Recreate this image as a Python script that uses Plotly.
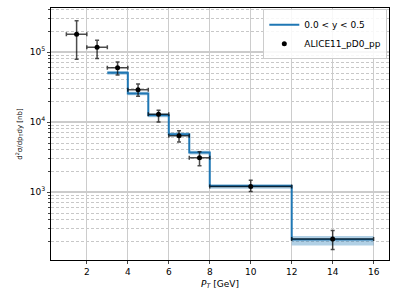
import plotly.graph_objects as go

# Measured data (ALICE11_pD0_pp)
bin_lo = [1, 2, 3, 4, 5, 6, 7, 8, 12]
bin_hi = [2, 3, 4, 5, 6, 7, 8, 12, 16]
y_data = [1.8e5, 1.17e5, 6.0e4, 2.89e4, 1.29e4, 6.4e3, 3.1e3, 1.2e3, 213]
y_up = [2.8e5, 1.48e5, 7.2e4, 3.49e4, 1.48e4, 7.5e3, 3.77e3, 1.48e3, 282]
y_down = [7.9e4, 8.1e4, 4.7e4, 2.35e4, 1.0e4, 5.2e3, 2.38e3, 1.02e3, 151]

# Theory histogram (0.0 < y < 0.5)
th_edges = [3, 4, 5, 6, 7, 8, 12, 16]
th_vals = [5.06e4, 2.57e4, 1.25e4, 6.7e3, 3.69e3, 1.22e3, 211]
th_low = [4.75e4, 2.42e4, 1.17e4, 6.3e3, 3.45e3, 1.12e3, 172]
th_high = [5.35e4, 2.72e4, 1.33e4, 7.1e3, 3.9e3, 1.30e3, 236]

x_ticks = [2, 4, 6, 8, 10, 12, 14, 16]
y_ticks = [1e3, 1e4, 1e5]
y_ticktext = ["10<sup>3</sup>", "10<sup>4</sup>", "10<sup>5</sup>"]
y_minor = [k * 10 ** e for e in range(2, 6) for k in range(2, 10)]

x_mid = [(a + b) / 2 for a, b in zip(bin_lo, bin_hi)]
x_half = [(b - a) / 2 for a, b in zip(bin_lo, bin_hi)]
err_p = [u - v for u, v in zip(y_up, y_data)]
err_m = [v - d for v, d in zip(y_data, y_down)]

blue = "#1f77b4"
fig = go.Figure()
fig.add_trace(go.Scatter(x=th_edges, y=th_low + [th_low[-1]], mode="lines",
                         line=dict(shape="hv", width=0), showlegend=False,
                         hoverinfo="skip"))
fig.add_trace(go.Scatter(x=th_edges, y=th_high + [th_high[-1]], mode="lines",
                         line=dict(shape="hv", width=0), fill="tonexty",
                         fillcolor="rgba(31,119,180,0.35)", showlegend=False,
                         hoverinfo="skip"))
fig.add_trace(go.Scatter(x=th_edges, y=th_vals + [th_vals[-1]], mode="lines",
                         line=dict(shape="hv", width=2, color=blue),
                         name="0.0 < y < 0.5", legendrank=1))
fig.add_trace(go.Scatter(
    x=x_mid, y=y_data, mode="markers", name="ALICE11_pD0_pp", legendrank=2,
    marker=dict(color="black", size=5),
    error_x=dict(type="data", array=x_half, color="rgba(0,0,0,0.7)",
                 thickness=1.5, width=2),
    error_y=dict(type="data", symmetric=False, array=err_p, arrayminus=err_m,
                 color="rgba(0,0,0,0.7)", thickness=1.5, width=2),
))

font = dict(family="DejaVu Sans", size=9, color="black")
fig.update_layout(
    width=399, height=299,
    margin=dict(l=51, r=10, t=8, b=39),
    paper_bgcolor="white", plot_bgcolor="white",
    font=font,
    showlegend=True,
    legend=dict(x=0.995, y=0.995, xanchor="right", yanchor="top",
                bgcolor="rgba(255,255,255,0.85)", bordercolor="#cccccc",
                borderwidth=1, font=dict(family="DejaVu Sans", size=9),
                tracegroupgap=0, itemwidth=30, traceorder="normal"),
)
fig.update_xaxes(
    automargin=False,
    range=[0.25, 16.75], tickvals=x_ticks, ticks="outside", ticklen=3,
    showgrid=True, gridcolor="#cccccc", gridwidth=1,
    showline=True, linecolor="black", linewidth=1, mirror=True,
    zeroline=False,
    title=dict(text="<i>P</i><sub><i>T</i></sub> [GeV]", standoff=4,
               font=dict(family="DejaVu Sans", size=9)),
)
fig.update_yaxes(
    automargin=False,
    type="log", range=[2.03, 5.63], tickvals=y_ticks, ticktext=y_ticktext,
    ticks="outside", ticklen=3,
    showgrid=True, gridcolor="#cccccc", gridwidth=1.5,
    minor=dict(tickvals=y_minor, showgrid=True, gridcolor="#c8c8c8",
               griddash="3px,2px", gridwidth=0.8, ticks="outside", ticklen=2),
    showline=True, linecolor="black", linewidth=1, mirror=True,
    zeroline=False,
    title=dict(text="d<sup>2</sup>σ/dp<sub>T</sub>dy [nb]", standoff=6,
               font=dict(family="DejaVu Sans", size=7)),
)

fig.write_html("out.html",
               config={"displayModeBar": False},
               post_script="document.body.style.margin='0';"
                           "document.body.style.overflow='hidden';")
